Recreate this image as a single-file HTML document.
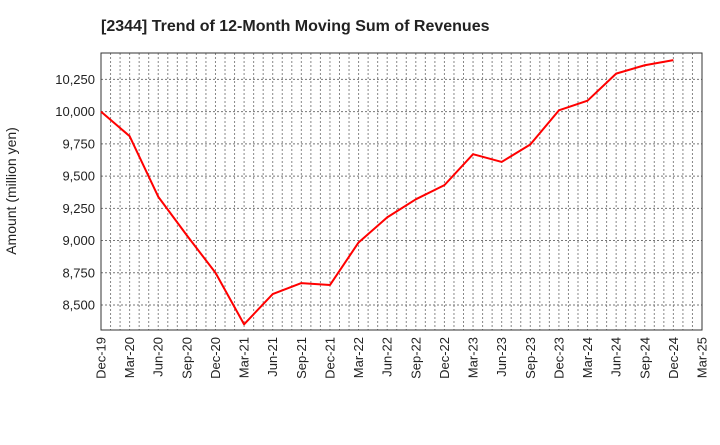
<!DOCTYPE html>
<html><head><meta charset="utf-8"><style>
body{margin:0;background:#fff;font-family:"Liberation Sans",sans-serif}
</style></head><body>
<svg id="chart" width="720" height="440" xmlns="http://www.w3.org/2000/svg">
<text x="101" y="31" font-size="16" font-weight="bold" fill="#222">[2344]  Trend of 12-Month Moving Sum of Revenues</text>
<text transform="translate(16,191) rotate(-90)" text-anchor="middle" font-size="14" fill="#222">Amount (million yen)</text>
<g id="grid"></g><g id="axes"></g><g id="series"></g>
</svg>
<script>
const categories=["Dec-19","Mar-20","Jun-20","Sep-20","Dec-20","Mar-21","Jun-21","Sep-21","Dec-21","Mar-22","Jun-22","Sep-22","Dec-22","Mar-23","Jun-23","Sep-23","Dec-23","Mar-24","Jun-24","Sep-24","Dec-24","Mar-25"];
const revenues=[10000,9810,9340,9040,8750,8350,8585,8670,8655,8985,9180,9320,9430,9670,9610,9745,10010,10085,10295,10360,10400];
const yTicks=[8500,8750,9000,9250,9500,9750,10000,10250];
const L=101,R=702,T=53,B=330,yMin=8306,yMax=10455;
const NS="http://www.w3.org/2000/svg";
const x=i=>L+(R-L)*i/(categories.length-1);
const y=v=>B-(v-yMin)/(yMax-yMin)*(B-T);
function mk(t,a,p){const e=document.createElementNS(NS,t);for(const k in a)e.setAttribute(k,a[k]);p.appendChild(e);return e;}
const grid=document.getElementById('grid'),axes=document.getElementById('axes'),ser=document.getElementById('series');
const months=(categories.length-1)*3;
for(let m=1;m<months;m++){const gx=L+(R-L)*m/months;
const g=mk('line',{x1:gx,x2:gx,y1:T,y2:B,stroke:'#888','stroke-width':1,'stroke-dasharray':'2,2'},grid);

}
yTicks.forEach(v=>{const g=mk('line',{x1:L,x2:R,y1:y(v),y2:y(v),stroke:'#777','stroke-width':1,'stroke-dasharray':'2,2'},grid);


const t=mk('text',{x:L-6,y:y(v)+4.5,'text-anchor':'end','font-size':13,fill:'#222'},axes);t.textContent=v.toLocaleString('en-US');

});
categories.forEach((c,i)=>{const t=mk('text',{transform:`translate(${x(i)+4.5},${B+7}) rotate(-90)`,'text-anchor':'end','font-size':13,fill:'#222'},axes);t.textContent=c;

});
const fr=mk('rect',{x:L,y:T,width:R-L,height:B-T,fill:'none',stroke:'#333','stroke-width':1},axes);


const pl=mk('polyline',{points:revenues.map((v,i)=>x(i)+','+y(v)).join(' '),fill:'none',stroke:'#f00','stroke-width':2,'stroke-linejoin':'round'},ser);


</script>
</body></html>
